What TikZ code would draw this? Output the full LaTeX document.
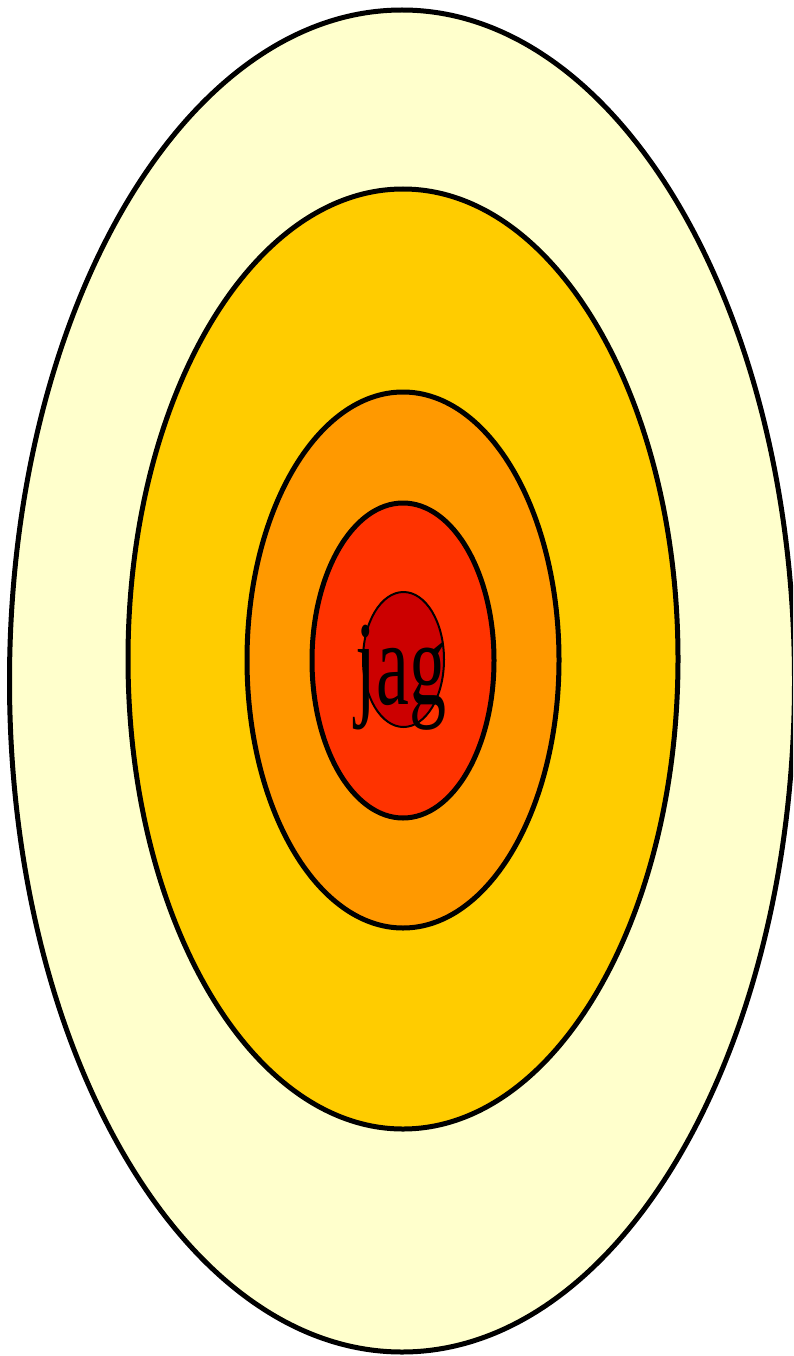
\documentclass[tikz,border=0pt]{standalone}
\usepackage{fontspec}
\setmainfont{Liberation Serif}
\usepackage{tikz}
\usetikzlibrary{positioning}
\definecolor{ringA}{HTML}{FFFFCC}
\definecolor{ringB}{HTML}{FFCC00}
\definecolor{ringC}{HTML}{FF9900}
\definecolor{ringD}{HTML}{FF3300}
\definecolor{ringE}{HTML}{CC0000}

\begin{document}
\begin{tikzpicture}[
    x=1pt, y=-1pt,
    ring/.style={draw=black, line width=5pt},
    core/.style={draw=black, line width=2pt, fill=ringE},
    word/.style={font=\fontsize{74}{74}\selectfont, inner sep=0pt, yscale=1.62}
]
\useasboundingbox (0,0) rectangle (793,1356);

% rings, outside in
\path[clip] (0,0) rectangle (793,1356);
\draw[ring, fill=ringA] (402,681) ellipse [x radius=392.5, y radius=671];
\draw[ring, fill=ringB] (403,659) ellipse [x radius=275, y radius=470];
\draw[ring, fill=ringC] (403,660) ellipse [x radius=156, y radius=268];
\draw[ring, fill=ringD] (403,660.5) ellipse [x radius=91, y radius=157.5];
\draw[core] (403.5,659.5) ellipse [x radius=40.5, y radius=67.5];

\node[word] (jag) at (401,678) {jag};

\end{tikzpicture}
\end{document}
